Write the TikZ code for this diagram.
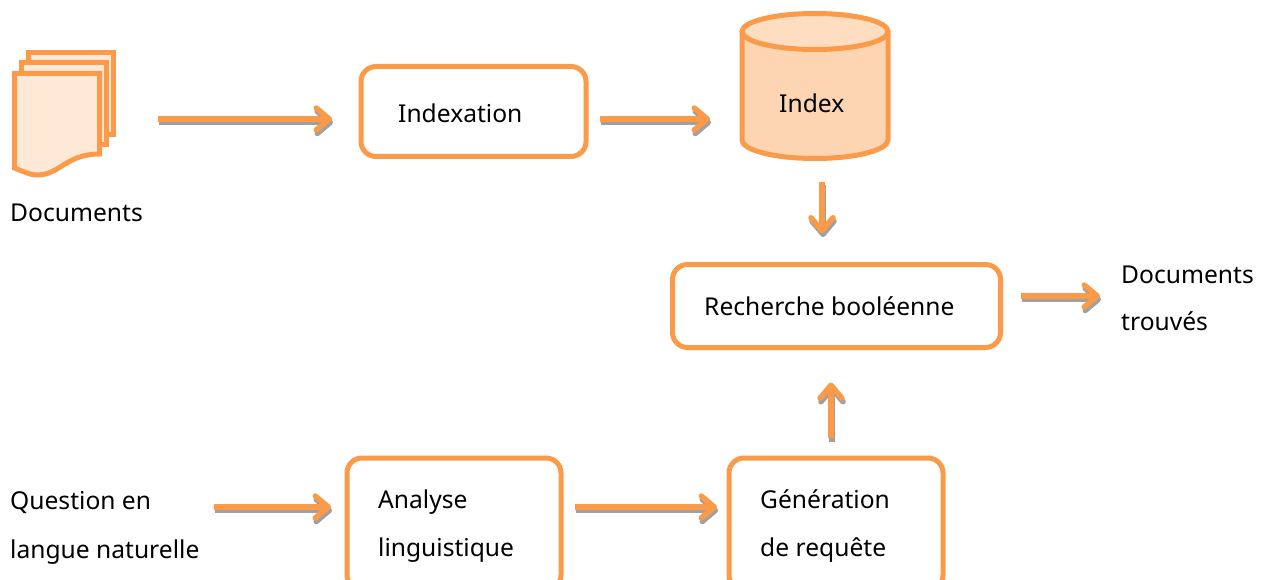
\documentclass[tikz,border=0pt]{standalone}
\usepackage{fontspec}
\setmainfont{Noto Sans}
\usetikzlibrary{arrows.meta}
\definecolor{org}{HTML}{FB9A49}
\definecolor{shd}{HTML}{A0A0A0}
\tikzset{
  x=1pt,y=-1pt,
  box/.style={draw=org,line width=5pt,rounded corners=15pt,fill=white,inner sep=0pt,outer sep=0pt},
  anchorbox/.style={inner sep=0pt,outer sep=0pt},
  sheet/.style={draw=org,line width=5pt,fill=org!22!white,miter limit=2},
  txt/.style={anchor=base west,inner sep=0pt,font=\fontsize{24.6}{28}\selectfont,text=black},
  flow/.style={draw=org,line width=5.5pt,-{Straight Barb[length=13pt,width=22pt,round]},
    preaction={draw=shd,line width=5.5pt,transform canvas={shift={(1pt,-3.5pt)}}}},
}
\begin{document}
\begin{tikzpicture}
\useasboundingbox (0,0) rectangle (1268,580);
\clip (0,0) rectangle (1268,580);
% documents icon
\draw[sheet] (28.5,52.5) rectangle (113,135);
\draw[sheet] (21,62.5) rectangle (106,145);
\draw[sheet] (14.5,73.5) -- (99.5,73.5) -- (99.5,154) .. controls (66,154) and (60,175) .. (37,175) .. controls (30,175) and (22,171) .. (14.5,168) -- cycle;
\node[anchorbox,minimum width=100pt,minimum height=126pt] (docs) at (64,113) {};
% index cylinder
\fill[fill=org!42!white] (742,31.5) -- (742,140) arc[start angle=180,end angle=360,x radius=73,y radius=-18.5] -- (888,31.5) -- cycle;
\draw[draw=org,line width=5pt,fill=org!34!white] (815,31.5) ellipse[x radius=73,y radius=18];
\draw[draw=org,line width=5pt] (742,31.5) -- (742,140) arc[start angle=180,end angle=360,x radius=73,y radius=-18.5] -- (888,31.5);
\node[anchorbox,minimum width=150pt,minimum height=148pt] (index) at (815,86) {};
% boxes
\node[box,minimum width=225pt,minimum height=90pt] (indexation) at (473.5,111.5) {};
\node[box,minimum width=328pt,minimum height=83pt] (search) at (836.5,306) {};
\node[box,minimum width=214pt,minimum height=132pt] (analyse) at (454,524) {};
\node[box,minimum width=214pt,minimum height=132pt] (gen) at (836,524) {};
% texts
\node[txt] (tdocs) at (10,221) {Documents};
\node[txt] (tindexation) at (398,123) {Indexation};
\node[txt] (tindex) at (779,113) {Index};
\node[txt] (tsearch) at (704,315) {Recherche booléenne};
\node[txt] (tfound1) at (1121,283) {Documents};
\node[txt] (tfound2) at (1121,330) {trouvés};
\node[txt] (tq1) at (10,509) {Question en};
\node[txt] (tq2) at (10,558) {langue naturelle};
\node[txt] (ta1) at (378,508) {Analyse};
\node[txt] (ta2) at (378,556) {linguistique};
\node[txt] (tg1) at (760,508) {Génération};
\node[txt] (tg2) at (760,556) {de requête};
\coordinate (qend) at (190,507);
\coordinate (fstart) at (1000,296);
% connectors
\draw[flow,shorten <=44pt,shorten >=29pt] ([yshift=-6pt]docs.east) -- ([yshift=-7.5pt]indexation.west);
\draw[flow,shorten <=14pt,shorten >=30pt] ([yshift=-7.5pt]indexation.east) -- ([yshift=-7.5pt]index.west |- indexation.east);
\draw[flow,shorten <=22pt,shorten >=31pt] ([xshift=7pt]index.south) -- ([xshift=-14.5pt]search.north);
\draw[flow,shorten <=20pt,shorten >=21pt] (search.east |- fstart) -- (tfound1.west |- fstart);
\draw[flow,shorten <=24pt,shorten >=16pt] (qend) -- (analyse.west |- qend);
\draw[flow,shorten <=14pt,shorten >=12pt] (analyse.east |- qend) -- (gen.west |- qend);
\draw[flow,shorten <=20pt,shorten >=35pt] ([xshift=-5pt]gen.north) -- ([xshift=-5.5pt]search.south);
\end{tikzpicture}
\end{document}
